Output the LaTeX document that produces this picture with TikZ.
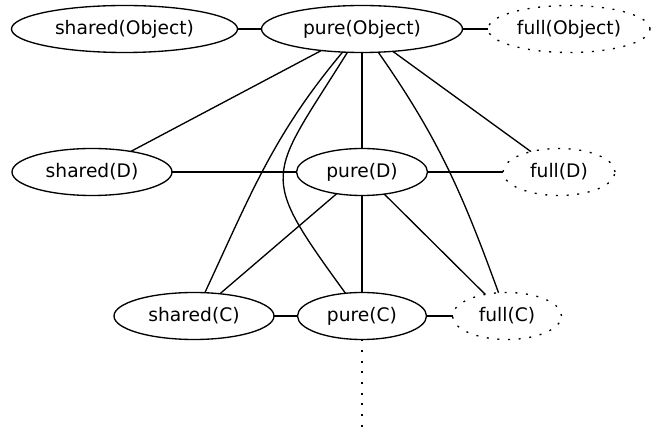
\documentclass[tikz,border=0pt]{standalone}
\usepackage{fontspec}
\setmainfont{DejaVu Sans}
\usetikzlibrary{shapes.geometric}
\begin{document}
\begin{tikzpicture}[x=0.75pt,y=0.75pt,line width=1pt,
  vert/.style={draw,ellipse,inner sep=0pt,outer sep=0pt,minimum height=35.25pt,font=\fontsize{14}{16}\selectfont},
  dotline/.style={dash pattern=on 1.5pt off 6.5pt}]
\useasboundingbox (0,0) rectangle (661,-434);
\draw (124.5,-29) node[vert,minimum width=169.5pt] (SO) {shared(Object)};
\draw (362,-29) node[vert,minimum width=150.75pt] (PO) {pure(Object)};
\draw (569,-29) node[vert,dotline,minimum width=121.5pt] (FO) {full(Object)};
\draw (92,-172) node[vert,minimum width=120pt] (SD) {shared(D)};
\draw (362,-172) node[vert,minimum width=98.25pt] (PD) {pure(D)};
\draw (559,-172) node[vert,dotline,minimum width=84pt] (FD) {full(D)};
\draw (194,-316) node[vert,minimum width=120pt] (SC) {shared(C)};
\draw (362,-316) node[vert,minimum width=96.75pt] (PC) {pure(C)};
\draw (507,-316) node[vert,dotline,minimum width=81.75pt] (FC) {full(C)};
\coordinate (tail) at (362,-429);

\draw (SO) -- (PO);
\draw (PO) -- (FO);
\draw (SD) -- (PD);
\draw (PD) -- (FD);
\draw (SC) -- (PC);
\draw (PC) -- (FC);
\draw (PO) -- (SD);
\draw (PO) -- (PD);
\draw (PO) -- (FD);
\draw (PO) to[out=230,in=65] (SC);
\draw (PO) to[out=238,in=126,looseness=1.6] (PC);
\draw (PO) to[out=305,in=110] (FC);
\draw (PD) -- (SC);
\draw (PD) -- (PC);
\draw (PD) -- (FC);
\draw[dotline] (PC) -- (tail);

\end{tikzpicture}
\end{document}
